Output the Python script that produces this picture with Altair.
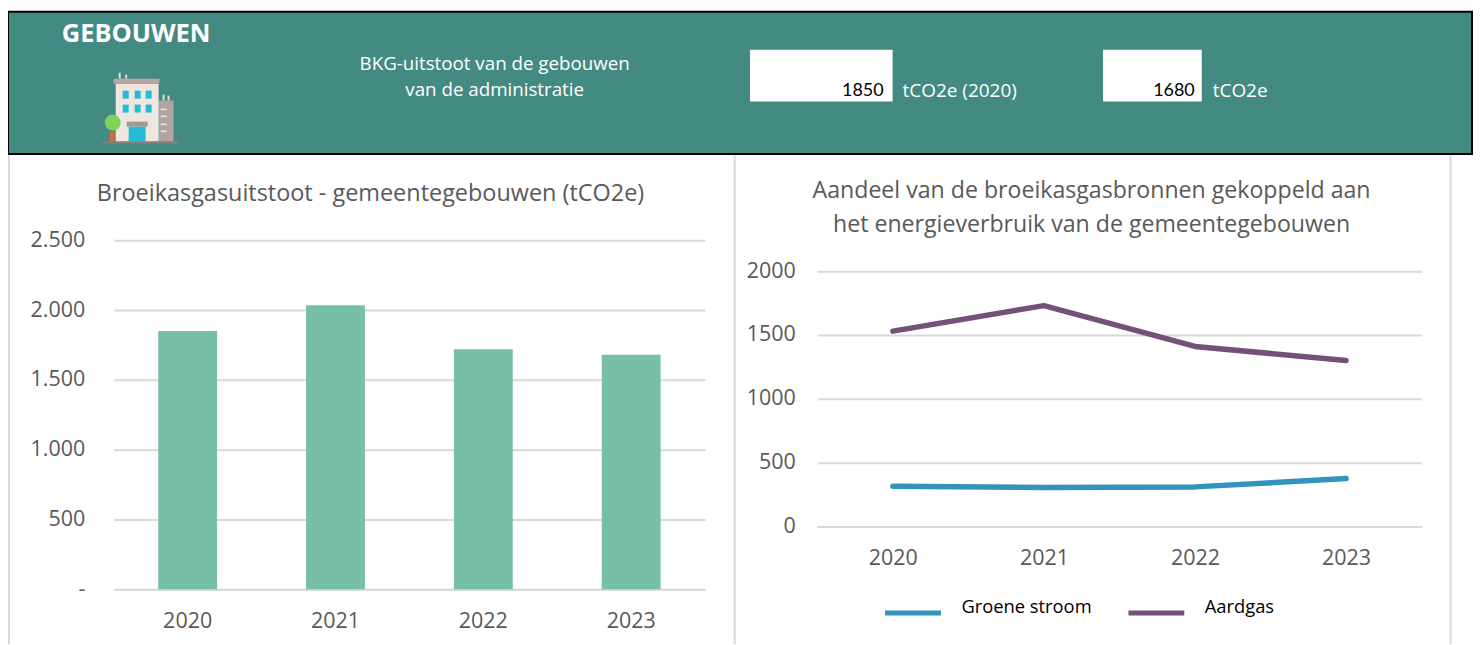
import base64
import altair as alt
import pandas as pd

years = ["2020", "2021", "2022", "2023"]
total = [1850, 2035, 1720, 1680]
groene = [315, 305, 310, 375]
aardgas = [1530, 1730, 1410, 1300]
series_names = ["Groene stroom", "Aardgas"]
title_left = "Broeikasgasuitstoot - gemeentegebouwen (tCO2e)"
title_right = ["Aandeel van de broeikasgasbronnen gekoppeld aan", "het energieverbruik van de gemeentegebouwen"]
heading = "GEBOUWEN"
desc = ["BKG-uitstoot van de gebouwen", "van de administratie"]

FONT = "Open Sans"
GREY = "#595959"
GRID = "#d9d9d9"
TEAL = "#438a82"

# Decorative building pictogram
win = "".join(
    f'<rect x="{x}" y="{y}" width="6" height="8" fill="#22bcd8"/>'
    for x in (22, 34, 45) for y in (20, 34)
)
stripes = "".join(f'<rect x="60" y="{y}" width="6" height="1.5" fill="#f0e6e0"/>' for y in (38, 45, 53, 60))
svg = (
    '<svg xmlns="http://www.w3.org/2000/svg" width="80" height="75" viewBox="0 0 80 75">'
    '<rect x="18" y="2" width="2" height="6" fill="#e6dcd6"/><rect x="24.500" y="4" width="2" height="4" fill="#e6dcd6"/>'
    '<rect x="62" y="24" width="2" height="6" fill="#e6dcd6"/><rect x="67" y="25" width="2" height="5" fill="#e6dcd6"/>'
    '<rect x="58" y="30" width="15" height="41" fill="#b0a5a0"/>'
    '<rect x="15" y="13" width="43" height="58" fill="#f0e6e0"/>'
    '<rect x="13" y="8" width="46" height="5" fill="#b5a8a2"/>'
    + win + stripes +
    '<rect x="28" y="56" width="17" height="16" fill="#22bcd8"/>'
    '<rect x="26" y="51" width="21" height="5" fill="#a09a96"/>'
    '<rect x="9" y="61" width="5" height="10" fill="#c87038"/>'
    '<circle cx="12" cy="52" r="8" fill="#7fd15d"/>'
    '<rect x="2" y="71" width="76" height="2" fill="#8a8078"/>'
    '</svg>'
)
icon_url = "data:image/svg+xml;base64," + base64.b64encode(svg.encode()).decode()


def txt(s, x, y, size=19, color="white", align="left", weight="normal", font=FONT):
    return alt.Chart().mark_text(
        align=align, baseline="middle", fontSize=size, color=color, font=font, fontWeight=weight
    ).encode(x=alt.value(x), y=alt.value(y), text=alt.value(s))


def box(x0, x1, y0, y1, fill="white", **kw):
    return alt.Chart().mark_rect(fill=fill, **kw).encode(
        x=alt.value(x0), x2=alt.value(x1), y=alt.value(y0), y2=alt.value(y1)
    )


# banner: x = page - 113, y = page - 12
header = alt.layer(
    box(-106, 1362, -1, 141.5, fill=TEAL, stroke="black", strokeWidth=2),
    txt(heading, -52, 21, size=25.5, weight="bold"),
    alt.Chart().mark_image(width=80, height=75, align="left", baseline="top").encode(
        x=alt.value(-13), y=alt.value(58), url=alt.value(icon_url)
    ),
    txt(desc[0], 382, 51, size=18.8, align="center"),
    txt(desc[1], 382, 77, size=18.8, align="center"),
    box(638, 781, 37, 89),
    box(992, 1091, 37, 89),
    txt(str(total[0]), 772, 78, size=18, color="black", align="right", font="Lato"),
    txt("tCO2e (2020)", 791, 78),
    txt(str(total[-1]), 1084, 78, size=18, color="black", align="right", font="Lato"),
    txt("tCO2e", 1102, 78),
).properties(width=1361, height=143)


def vline(x, h=490):
    return alt.Chart().mark_rule(color=GRID, strokeWidth=2).encode(
        x=alt.value(x), y=alt.value(0), y2=alt.value(h)
    )


x_axis = dict(
    title=None, labelAngle=0, labelFontSize=21.5, labelColor=GREY, labelFont=FONT,
    ticks=False, domainColor=GRID, domainWidth=2, grid=False,
)
y_axis = dict(
    title=None, labelFontSize=21.5, labelColor=GREY, labelFont=FONT, ticks=False, domain=False,
    gridColor=GRID, gridWidth=2,
)

df_left = pd.DataFrame({"jaar": years, "waarde": total})
left = alt.layer(
    vline(-105),
    vline(622.7),
    alt.Chart(df_left).mark_bar(size=59, color="#77bfa7").encode(
        x=alt.X("jaar:N", scale=alt.Scale(paddingInner=0, paddingOuter=0), axis=alt.Axis(labelPadding=21, **x_axis)),
        y=alt.Y(
            "waarde:Q",
            scale=alt.Scale(domain=[0, 2500], range=[435, 85]),
            axis=alt.Axis(
                values=[0, 500, 1000, 1500, 2000, 2500],
                labelPadding=29,
                labelExpr="datum.value === 0 ? '-\u00a0\u00a0' : replace(format(datum.value, ','), ',', '.')",
                **y_axis,
            ),
        ),
    ),
).properties(
    width=593,
    height=435,
    title=alt.TitleParams(
        title_left, fontSize=23.5, font=FONT, fontWeight="normal", color=GREY, anchor="middle",
        dx=-39, offset=-63, baseline="middle",
    ),
)

df_right = pd.DataFrame({
    "jaar": years * 2,
    "bron": [series_names[0]] * 4 + [series_names[1]] * 4,
    "waarde": groene + aardgas,
})
right = alt.layer(
    vline(635),
    alt.Chart(df_right).mark_line(strokeWidth=5.5, strokeCap="round", strokeJoin="round").encode(
        x=alt.X("jaar:N", scale=alt.Scale(paddingInner=0, paddingOuter=0), axis=alt.Axis(labelPadding=21, **x_axis)),
        y=alt.Y(
            "waarde:Q",
            scale=alt.Scale(domain=[0, 2000], range=[372, 116]),
            axis=alt.Axis(values=[0, 500, 1000, 1500, 2000], labelPadding=22, format="d", **y_axis),
        ),
        color=alt.Color(
            "bron:N",
            scale=alt.Scale(domain=series_names, range=["#3493bc", "#745278"]),
            legend=alt.Legend(
                title=None, orient="none", direction="horizontal", legendX=65.5, legendY=428,
                symbolType="stroke", symbolSize=3136, symbolStrokeWidth=5,
                labelFontSize=18.4, labelColor="black", labelFont=FONT, labelBaseline="alphabetic",
                columnPadding=26, labelOffset=18,
            ),
        ),
    ),
).properties(
    width=606,
    height=372,
    title=alt.TitleParams(
        title_right, fontSize=23.2, font=FONT, fontWeight="normal", color=GREY, anchor="middle",
        dx=-28, offset=-94, lineHeight=34, baseline="middle",
    ),
)

row = alt.hconcat(left, right, spacing=112.5, bounds="flush").resolve_scale(color="independent")
chart = alt.vconcat(header, row, spacing=0, bounds="flush").properties(
    padding={"left": -1, "top": 2, "right": 0, "bottom": 0},
).configure_view(stroke=None)

chart.save("out.html", embed_options={"renderer": "svg", "actions": False})
